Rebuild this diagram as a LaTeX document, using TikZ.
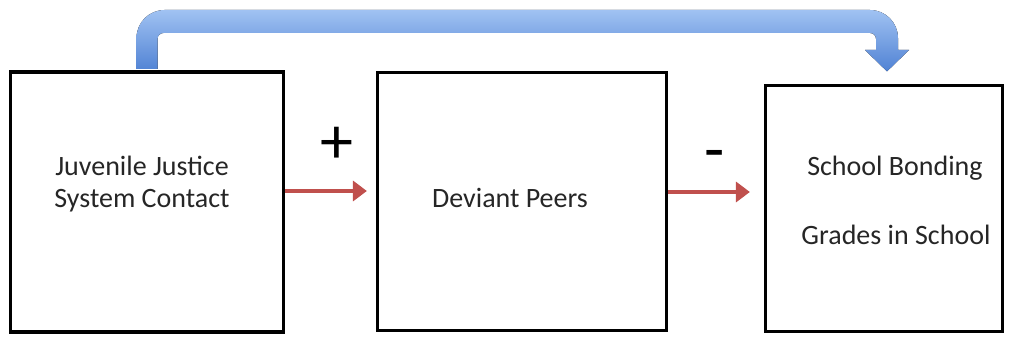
\documentclass[tikz,border=0pt]{standalone}
\usepackage{fontspec}
\setmainfont{Carlito}
\usetikzlibrary{arrows.meta,calc}
\definecolor{boxred}{RGB}{192,80,77}
\definecolor{bluetop}{RGB}{160,194,242}
\definecolor{bluebot}{RGB}{80,130,212}
\begin{document}
\begin{tikzpicture}[x=1pt,y=1pt,
  box/.style={draw=black, line width=3.2pt, inner sep=0pt, fill=white},
  lbl/.style={font=\fontsize{28}{32}\selectfont, align=center, text=black!85, inner sep=0pt},
  sign/.style={font=\fontsize{66}{70}\selectfont, inner sep=0pt},
  redarr/.style={draw=boxred, line width=4.5pt, -{Triangle[length=14pt,width=20pt]}},
  bluearr/.style={top color=bluetop, bottom color=bluebot}]
\useasboundingbox (0,0) rectangle (1009,337);
\node[box, minimum width=273pt, minimum height=260pt] (j) at (147,135) {};
\node[box, minimum width=289pt, minimum height=258pt] (d) at (522,135.5) {};
\node[box, minimum width=237pt, minimum height=246pt] (s) at (884,128.5) {};
\node[lbl] (jt) at ($(j.center)+(-5,18)$) {Juvenile Justice\\System Contact};
\node[lbl] (dt) at ($(d.center)+(-12,3.5)$) {Deviant Peers};
\node[lbl] (st1) at ($(s.center)+(11,40.5)$) {School Bonding};
\node[lbl] (st2) at ($(s.center)+(12,-26.5)$) {Grades in School};
\node[sign] (plus) at (337,192) {+};
\node[sign] (minus) at (715,176) {-};
\draw[redarr, shorten >=9pt] ([yshift=11pt]j.east) -- ([yshift=11pt]j.east -| d.west);
\draw[redarr, shorten >=14pt] ([yshift=9.5pt]d.east) -- ([yshift=9.5pt]d.east -| s.west);
\fill[bluearr] let \p1=(j.north), \p2=(s.north) in
  (\x1-10.5pt,\y1+1.5pt) -- (\x1-10.5pt,299pt) arc[start angle=180,end angle=90,radius=28pt]
  -- (\x2-14pt,327pt) arc[start angle=90,end angle=0,radius=28pt]
  -- (\x2+14pt,287pt) -- (\x2+25pt,287pt) -- (\x2+3pt,\y2+12.5pt) -- (\x2-19pt,287pt)
  -- (\x2-8pt,287pt) -- (\x2-8pt,298pt) arc[start angle=0,end angle=90,radius=6pt]
  -- (\x1+16.5pt,304pt) arc[start angle=90,end angle=180,radius=6pt]
  -- (\x1+10.5pt,\y1+1.5pt) -- cycle;
\end{tikzpicture}
\end{document}
